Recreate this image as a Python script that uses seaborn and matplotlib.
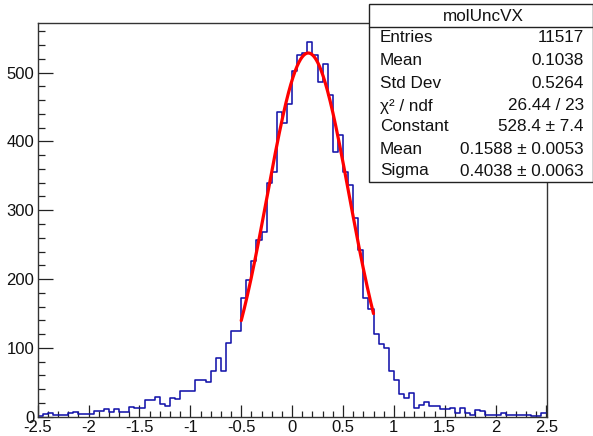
import numpy as np
import pandas as pd
import matplotlib
matplotlib.use("Agg")
import matplotlib.pyplot as plt
import seaborn as sns
from matplotlib.patches import Rectangle
from matplotlib.lines import Line2D

# ---- data ----
x_min, x_max, n_bins = -2.5, 2.5, 100
counts = [
    1, 4, 6, 2, 3, 2, 5, 7, 4, 4,
    4, 9, 9, 11, 7, 11, 7, 7, 14, 12,
    12, 24, 24, 29, 18, 15, 27, 25, 38, 38,
    37, 53, 54, 51, 67, 85, 67, 107, 124, 124,
    172, 199, 226, 256, 269, 339, 356, 442, 427, 454,
    502, 525, 529, 545, 525, 487, 512, 468, 385, 409,
    356, 336, 288, 242, 172, 156, 120, 105, 100, 66,
    54, 33, 27, 35, 13, 17, 21, 15, 16, 11,
    11, 13, 5, 13, 6, 3, 10, 8, 3, 3,
    3, 5, 3, 3, 3, 3, 3, 1, 1, 5,
]
fit_constant, fit_mean, fit_sigma = 528.4, 0.1588, 0.4038
fit_range = (-0.5, 0.8)

hist_title = "molUncVX"
stat_labels = ["Entries", "Mean", "Std Dev", "\u03c7\u00b2 / ndf", "Constant", "Mean", "Sigma"]
stat_values = ["11517", "0.1038", "0.5264", "26.44 / 23", "528.4 \u00b1 7.4",
               "0.1588 \u00b1 0.0053", "0.4038 \u00b1 0.0063"]
x_ticks = [-2.5, -2, -1.5, -1, -0.5, 0, 0.5, 1, 1.5, 2, 2.5]
x_ticklabels = ["-2.5", "-2", "-1.5", "-1", "-0.5", "0", "0.5", "1", "1.5", "2", "2.5"]
y_ticks = [0, 100, 200, 300, 400, 500]
y_ticklabels = ["0", "100", "200", "300", "400", "500"]

# ---- build ----
bin_width = (x_max - x_min) / n_bins
edges = np.linspace(x_min, x_max, n_bins + 1)
centers = 0.5 * (edges[:-1] + edges[1:])
df = pd.DataFrame({"x": centers, "w": np.asarray(counts, dtype=float)})

xf = np.linspace(fit_range[0], fit_range[1], 300)
fit_df = pd.DataFrame({"x": xf,
                       "y": fit_constant * np.exp(-0.5 * ((xf - fit_mean) / fit_sigma) ** 2)})

sns.set_style("white")
plt.rcParams["font.family"] = ["Liberation Sans", "DejaVu Sans"]
plt.rcParams["axes.unicode_minus"] = False

W, H = 593, 436
fig = plt.figure(figsize=(W / 100, H / 100), dpi=100)
ax = fig.add_axes([37.7 / W, 1 - 416.7 / H, (546.5 - 37.7) / W, (416.7 - 23) / H])

sns.histplot(data=df, x="x", weights="w", binwidth=bin_width, binrange=(x_min, x_max),
             element="step", fill=False, color="#1414aa", linewidth=1.15, ax=ax)
sns.lineplot(data=fit_df, x="x", y="y", color="#ff0000", linewidth=2.3, ax=ax)

ax.set_xlim(x_min, x_max)
ax.set_ylim(0, 572)
ax.set_xlabel("")
ax.set_ylabel("")
ax.set_xticks(x_ticks)
ax.set_xticklabels(x_ticklabels)
ax.set_yticks(y_ticks)
ax.set_yticklabels(y_ticklabels)
ax.set_xticks(np.arange(-2.5, 2.51, 0.1), minor=True)
ax.set_yticks(np.arange(0, 572, 20), minor=True)
ax.tick_params(axis="x", which="major", direction="in", length=8.6, width=0.9, bottom=True,
               top=False, color="#222222", labelsize=12, pad=2.5, labelcolor="#111111")
ax.tick_params(axis="x", which="minor", direction="in", length=4.3, width=0.9, bottom=True,
               top=False, color="#222222")
ax.tick_params(axis="y", which="major", direction="in", length=10.8, width=0.9, left=True,
               right=False, color="#222222", labelsize=12, pad=2.5, labelcolor="#111111")
ax.tick_params(axis="y", which="minor", direction="in", length=5.2, width=0.9, left=True,
               right=False, color="#222222")
for s in ax.spines.values():
    s.set_visible(True)
    s.set_color("#333333")
    s.set_linewidth(1.0)
ax.grid(False)

# ---- stats box (figure pixel coordinates) ----
bx0, bx1, by_top, by_bot, by_sep = 369.5, 592.5, 4.0, 181.7, 26.7
def fx(p):
    return p / W
def fy(p):
    return 1 - p / H
box = Rectangle((fx(bx0), fy(by_bot)), fx(bx1) - fx(bx0), fy(by_top) - fy(by_bot),
                transform=fig.transFigure, facecolor="white", edgecolor="#222222",
                linewidth=1.0, zorder=10)
fig.add_artist(box)
fig.add_artist(Line2D([fx(bx0), fx(bx1)], [fy(by_sep), fy(by_sep)], transform=fig.transFigure,
                      color="#222222", linewidth=1.0, zorder=11))
fig.text(fx((bx0 + bx1) / 2 + 2), fy(16.5), hist_title, ha="center", va="center",
         fontsize=12.3, color="#111111", zorder=12)
row_y = [37.7, 60.7, 83.3, 106, 126.7, 149, 171]
for lab, val, yy in zip(stat_labels, stat_values, row_y):
    fig.text(fx(380), fy(yy), lab, ha="left", va="center", fontsize=12.3, color="#111111", zorder=12)
    fig.text(fx(584), fy(yy), val, ha="right", va="center", fontsize=12.3, color="#111111", zorder=12)

fig.savefig("out.png", dpi=100)
